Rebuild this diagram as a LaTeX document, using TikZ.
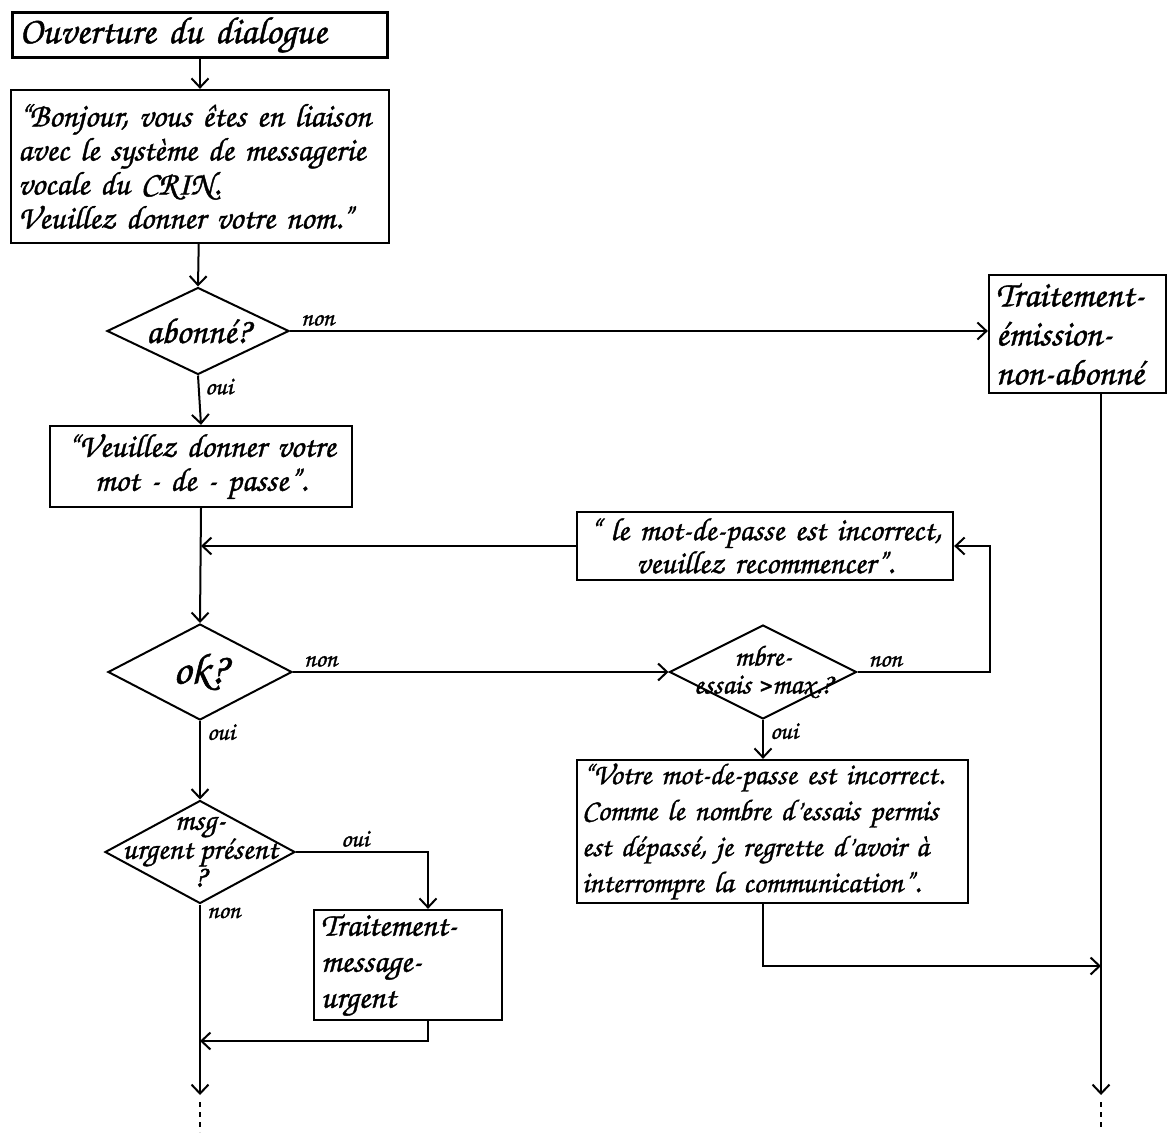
\documentclass[tikz,border=0pt]{standalone}
\usepackage{fontspec}
\setmainfont{texgyrechorus-mediumitalic.otf}[FakeBold=1.2]
\usetikzlibrary{arrows.meta,shapes.geometric}
\newcommand\boxfont{\fontsize{33}{34}\selectfont}
\newcommand\testfont{\fontsize{29}{28}\selectfont}
\newcommand\tagfont{\fontsize{25}{25}\selectfont}
\begin{document}
\begin{tikzpicture}[x=1pt,y=-1pt,
  flow/.style={line width=2pt},
  arr/.style={flow,-{Straight Barb[length=9pt,width=17pt,line width=2pt]}},
  dots/.style={line width=2pt,dash pattern=on 5pt off 5pt},
  stepbox/.style={draw,line width=2.3pt,inner xsep=7pt,inner ysep=0pt,align=left,font=\boxfont},
  test/.style={diamond,draw,line width=2pt,inner sep=0pt},
  inlabel/.style={align=center,font=\testfont,inner sep=0pt},
  tag/.style={font=\tagfont,inner sep=1pt}]
\useasboundingbox (0,0) rectangle (1169,1132);

% start and greeting
\node[stepbox,minimum width=375pt,minimum height=45pt,text width=361pt,font=\fontsize{38}{38}\selectfont] (open) at (200,35) {Ouverture du dialogue};
\node[stepbox,minimum width=378pt,minimum height=153pt,text width=364pt] (greet) at (200,166.5)
  {“Bonjour, vous êtes en liaison\\avec le système de messagerie\\vocale du CRIN.\\Veuillez donner votre nom.”};

% subscriber test
\node[test,minimum width=182pt,minimum height=87pt,
  label={[inlabel,font=\fontsize{36}{36}\selectfont]center:abonné?}] (abo) at (198,331) {};
\node[stepbox,minimum width=177pt,minimum height=118pt,text width=163pt,font=\fontsize{36}{39}\selectfont] (nab) at (1077.5,334)
  {Traitement-\\émission-\\non-abonné};

% password
\node[stepbox,minimum width=302pt,minimum height=81pt,text width=288pt,align=center] (pw) at (201,466.5)
  {“Veuillez donner votre\\mot - de - passe”.};
\node[stepbox,minimum width=376pt,minimum height=68pt,text width=362pt,align=center,font=\fontsize{32}{33}\selectfont] (retry) at (765,546)
  {“ le mot-de-passe est incorrect,\\veuillez recommencer”.};
\node[test,minimum width=184pt,minimum height=96pt,
  label={[inlabel,font=\fontsize{44}{44}\selectfont]center:ok?}] (ok) at (200,672) {};
\node[test,minimum width=187pt,minimum height=94pt,label={[inlabel]center:mbre-\\essais >max.?}] (nb) at (763,672) {};
\node[stepbox,minimum width=391pt,minimum height=143pt,text width=381pt,inner xsep=5pt,font=\fontsize{30}{36}\selectfont] (fail) at (772.5,831.5)
  {“Votre mot-de-passe est incorrect.\\Comme le nombre d’essais permis\\est dépassé, je regrette d’avoir à\\interrompre la communication”.};

% urgent messages
\node[test,minimum width=190pt,minimum height=103pt,
  label={[inlabel,font=\fontsize{31}{28}\selectfont]center:msg-\\urgent présent\\?}] (msg) at (200,852) {};
\node[stepbox,minimum width=188pt,minimum height=110pt,text width=174pt,font=\fontsize{33}{36}\selectfont] (urg) at (408,965)
  {Traitement-\\message-\\urgent};

% junction points
\coordinate (ux) at (428,0);
\coordinate (loop) at (990,546);
\coordinate (rj) at (1101,966);
\coordinate (rend) at (1101,1095);
\coordinate (lj) at (200,1041);
\coordinate (lend) at (200,1095);

% connectors
\draw[arr] (open) -- (greet);
\draw[arr] (greet) -- (abo.north);
\draw[arr] (abo.east) -- (abo.east -| nab.west);
\draw[arr] (abo.south) -- (pw.north);
\draw[arr] (pw.south) -- (ok.north);
\draw[arr] (retry.west) -- (retry.west -| pw.south);
\draw[arr] (ok.east) -- (nb.west);
\draw[arr] (nb.east) -| (loop) -- (retry.east);
\draw[arr] (nb.south) -- (nb.south |- fail.north);
\draw[arr] (nb.south |- fail.south) |- (rj);
\draw[arr] (rend |- nab.south) -- (rend);
\draw[dots] ([yshift=-7pt]rend) -- (1101,1128);
\draw[arr] (ok.south) -- (msg.north);
\draw[arr] (msg.east) -| (ux |- urg.north);
\draw[arr] (ux |- urg.south) |- (lj);
\draw[arr] (msg.south) -- (lend);
\draw[dots] ([yshift=-7pt]lend) -- (200,1132);

% branch labels
\node[tag,anchor=south west] at ([xshift=10pt,yshift=4pt]abo.east) {non};
\node[tag,anchor=north west] at ([xshift=6pt,yshift=-2pt]abo.south) {oui};
\node[tag,anchor=south west] at ([xshift=10pt,yshift=4pt]ok.east) {non};
\node[tag,anchor=north west] at ([xshift=6pt,yshift=-2pt]ok.south) {oui};
\node[tag,anchor=south west] at ([xshift=10pt,yshift=4pt]nb.east) {non};
\node[tag,anchor=north west] at ([xshift=6pt,yshift=-2pt]nb.south) {oui};
\node[tag,anchor=south west] at ([xshift=44pt,yshift=4pt]msg.east) {oui};
\node[tag,anchor=north west] at ([xshift=6pt,yshift=-2pt]msg.south) {non};
\end{tikzpicture}
\end{document}
